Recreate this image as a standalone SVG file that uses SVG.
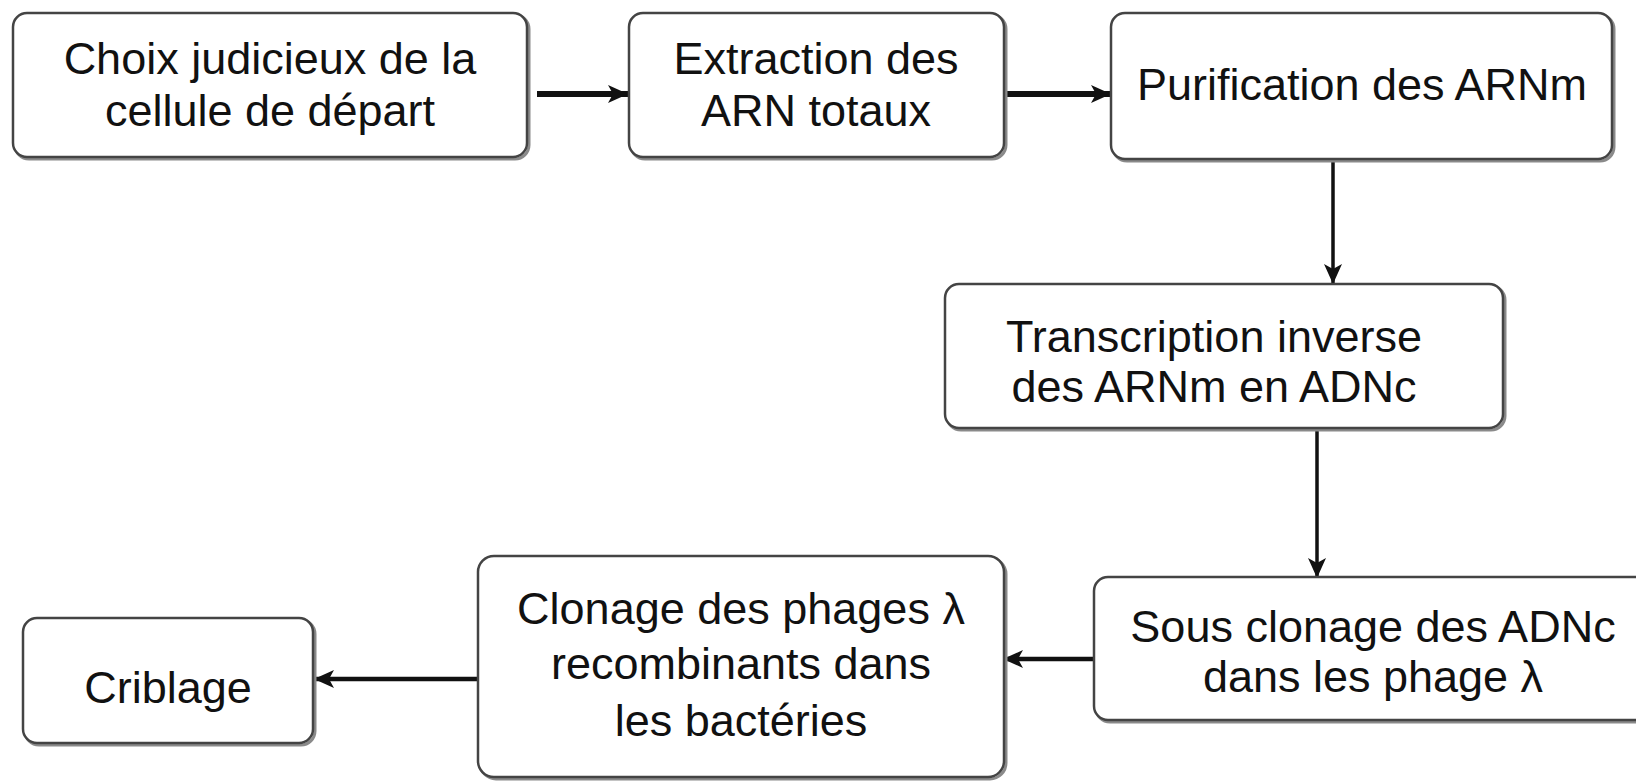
<svg xmlns="http://www.w3.org/2000/svg" width="1636" height="782" viewBox="0 0 1636 782">
  <style>
    .box { fill: #ffffff; stroke: #444444; stroke-width: 2.5; }
    .shadow { fill: none; stroke: #8a8a8a; stroke-width: 3; }
    .label { font-family: "Liberation Sans", Arial, sans-serif; font-size: 45px; fill: #111; text-anchor: middle; }
    .link { stroke: #111; fill: none; }
    .thick { stroke-width: 6; }
    .mid { stroke-width: 4.5; }
    .thin { stroke-width: 3.5; }
  </style>
  <defs>
    <marker id="head" markerUnits="userSpaceOnUse" markerWidth="22" markerHeight="20" refX="20" refY="10" orient="auto">
      <path d="M0,1 L20,10 L0,19 L5,10 Z" fill="#111"/>
    </marker>
  </defs>
  <rect width="1636" height="782" fill="#ffffff"/>

  <!-- flow arrows between the steps -->
  <g id="connectors">
    <line class="link thick" x1="537" y1="94" x2="628" y2="94" marker-end="url(#head)"/>
    <line class="link thick" x1="1006" y1="94" x2="1111" y2="94" marker-end="url(#head)"/>
    <line class="link thin" x1="1333" y1="159" x2="1333" y2="284" marker-end="url(#head)"/>
    <line class="link thin" x1="1317" y1="428" x2="1317" y2="578" marker-end="url(#head)"/>
    <line class="link mid" x1="1093" y1="659" x2="1003" y2="659" marker-end="url(#head)"/>
    <line class="link mid" x1="478" y1="679" x2="314" y2="679" marker-end="url(#head)"/>
  </g>

  <g id="choix">
    <rect class="shadow" x="15" y="15" width="514" height="144" rx="14"/>
    <rect class="box" x="13" y="13" width="514" height="144" rx="14"/>
    <text class="label" x="270" y="74">Choix judicieux de la</text>
    <text class="label" x="270" y="126">cellule de départ</text>
  </g>

  <g id="extraction">
    <rect class="shadow" x="631" y="15" width="375" height="144" rx="14"/>
    <rect class="box" x="629" y="13" width="375" height="144" rx="14"/>
    <text class="label" x="816" y="74">Extraction des</text>
    <text class="label" x="816" y="126">ARN totaux</text>
  </g>

  <g id="purification">
    <rect class="shadow" x="1113" y="15" width="501" height="146" rx="14"/>
    <rect class="box" x="1111" y="13" width="501" height="146" rx="14"/>
    <text class="label" x="1362" y="100">Purification des ARNm</text>
  </g>

  <g id="transcription">
    <rect class="shadow" x="947" y="286" width="558" height="144" rx="14"/>
    <rect class="box" x="945" y="284" width="558" height="144" rx="14"/>
    <text class="label" x="1214" y="352">Transcription inverse</text>
    <text class="label" x="1214" y="402">des ARNm en ADNc</text>
  </g>

  <g id="sous-clonage">
    <rect class="shadow" x="1096" y="579" width="560" height="143" rx="14"/>
    <rect class="box" x="1094" y="577" width="560" height="143" rx="14"/>
    <text class="label" x="1373" y="642">Sous clonage des ADNc</text>
    <text class="label" x="1373" y="692">dans les phage λ</text>
  </g>

  <g id="clonage">
    <rect class="shadow" x="480" y="558" width="526" height="221" rx="16"/>
    <rect class="box" x="478" y="556" width="526" height="221" rx="16"/>
    <text class="label" x="741" y="624">Clonage des phages λ</text>
    <text class="label" x="741" y="679">recombinants dans</text>
    <text class="label" x="741" y="736">les bactéries</text>
  </g>

  <g id="criblage">
    <rect class="shadow" x="25" y="620" width="290" height="125" rx="14"/>
    <rect class="box" x="23" y="618" width="290" height="125" rx="14"/>
    <text class="label" x="168" y="703">Criblage</text>
  </g>
</svg>
